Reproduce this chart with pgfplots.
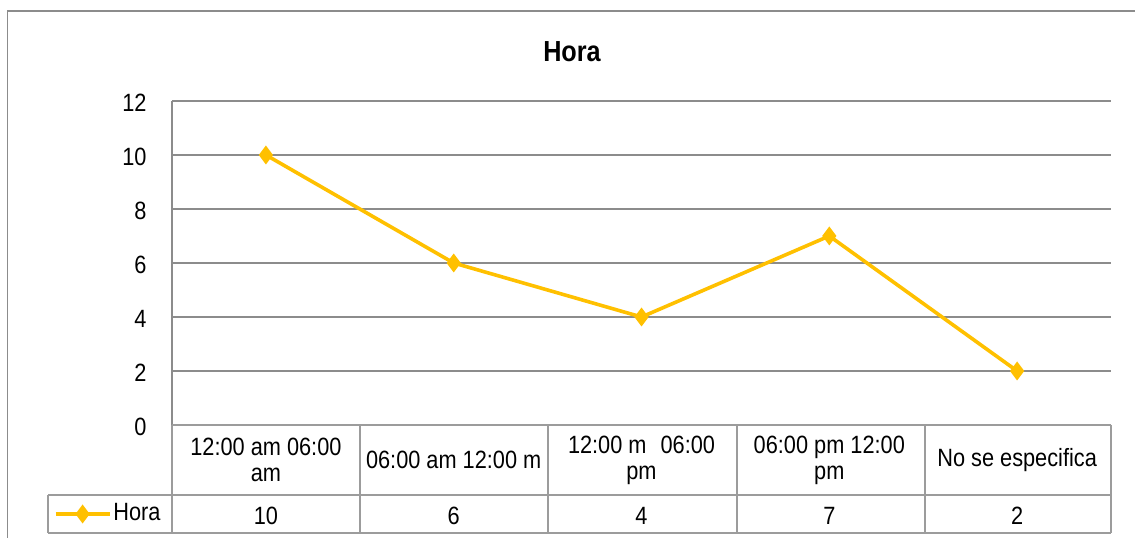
\documentclass[border=0pt]{standalone}
\usepackage{fontspec}
\setmainfont{Liberation Sans}[FakeStretch=0.87]
\usepackage{pgfplots}
\pgfplotsset{compat=1.18}
\definecolor{gold}{HTML}{FFC000}
\definecolor{gridgray}{HTML}{8C8C8C}
\definecolor{tabgray}{HTML}{9C9C9C}
\begin{document}
\fontsize{25bp}{26bp}\selectfont
\begin{tikzpicture}[x=1bp,y=1bp]
\useasboundingbox (0,0) rectangle (1135,538);
% outer chart frame
\draw[gridgray, line width=1.2bp] (7.5,0) -- (7.5,527) -- (1135,527);
% title
\node[font=\bfseries\fontsize{29bp}{30bp}\selectfont] at (572,486) {Hora};
\begin{axis}[
  at={(172bp,113bp)}, anchor=south west,
  scale only axis, width=939bp, height=324bp,
  xmin=0.5, xmax=5.5, ymin=0, ymax=12,
  ytick={0,2,...,12}, xtick={1,2,3,4,5},
  xticklabels={{12:00 am 06:00\\am},{06:00 am 12:00 m},{12:00 m\hspace{14bp}06:00\\pm},{06:00 pm 12:00\\pm},{No se especifica}},
  axis lines*=left, axis line style={gridgray, line width=1.2bp, -},
  tick style={draw=none},
  ymajorgrids, grid style={gridgray, line width=1.2bp},
  /pgf/number format/assume math mode=true,
  tick label style={font=\fontsize{25bp}{26bp}\selectfont},
  yticklabel style={xshift=-17bp, yshift=-2bp},
  xticklabel style={text width=185bp, align=flush center, anchor=center, yshift=-35bp},
  clip=false,
  legend style={at={(-0.068,-0.2747)}, anchor=center, draw=none, fill=none,
    font=\fontsize{25bp}{26bp}\selectfont, inner sep=0pt},
  legend image code/.code={\draw[mark repeat=2,mark phase=2,#1] plot coordinates {(0bp,0bp) (27bp,0bp) (54bp,0bp)};},
]
\addplot[gold, line width=3.6bp, mark=diamond*, mark size=6.5bp, mark options={solid, fill=gold}]
  coordinates {(1,10) (2,6) (3,4) (4,7) (5,2)};
\addlegendentry{Hora}
\node at (axis cs:1,0) [yshift=-91bp] {10};
\node at (axis cs:2,0) [yshift=-91bp] {6};
\node at (axis cs:3,0) [yshift=-91bp] {4};
\node at (axis cs:4,0) [yshift=-91bp] {7};
\node at (axis cs:5,0) [yshift=-91bp] {2};
\end{axis}
% data table lines
\draw[tabgray, line width=1.2bp] (172,113) -- (1111,113);
\foreach \xx in {172,360,548,737,925,1111} {\draw[tabgray, line width=1.2bp] (\xx,113) -- (\xx,5);}
\draw[tabgray, line width=1.2bp] (48,43) -- (1111,43);
\draw[tabgray, line width=1.2bp] (48,5) -- (1111,5);
\draw[tabgray, line width=1.2bp] (48,43) -- (48,5);
\end{tikzpicture}
\end{document}
